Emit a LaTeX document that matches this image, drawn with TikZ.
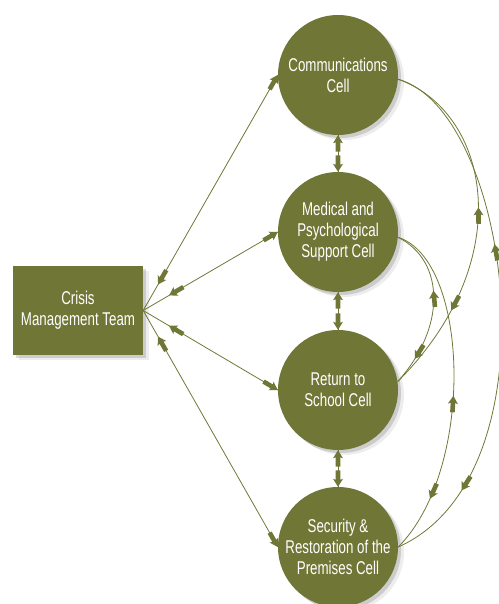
\documentclass[tikz,border=0pt]{standalone}
\usepackage{fontspec}
\setmainfont[FakeStretch=0.72]{Liberation Sans}
\usetikzlibrary{decorations.markings,shadows}
\definecolor{cmolive}{RGB}{112,119,54}
\tikzset{
  softshadow/.style={drop shadow={shadow xshift=3pt,shadow yshift=-3pt,opacity=.14,fill=black},
                     drop shadow={shadow xshift=6pt,shadow yshift=-5pt,opacity=.07,fill=black}},
  cell/.style={circle, fill=cmolive, minimum size=120pt, inner sep=0pt, text=white, align=center,
               font=\fontsize{18.5pt}{21pt}\selectfont, softshadow},
  team/.style={rectangle, fill=cmolive, minimum width=130pt, minimum height=89pt, inner sep=0pt,
               text=white, align=center, font=\fontsize{18.5pt}{21pt}\selectfont, softshadow},
  link/.style={draw=cmolive, line width=0.8pt},
  fwdtip/.style={postaction={decorate, decoration={markings, mark=at position #1 with {
      \fill[cmolive] (0pt,0pt) -- (-8pt,5pt) -- (-7pt,2.3pt) -- (-16.5pt,2.3pt) -- (-16.5pt,-2.3pt)
        -- (-7pt,-2.3pt) -- (-8pt,-5pt) -- cycle;}}}},
  bwdtip/.style={postaction={decorate, decoration={markings, mark=at position #1 with {
      \fill[cmolive] (0pt,0pt) -- (8pt,5pt) -- (7pt,2.3pt) -- (16.5pt,2.3pt) -- (16.5pt,-2.3pt)
        -- (7pt,-2.3pt) -- (8pt,-5pt) -- cycle;}}}}
}
\begin{document}
\begin{tikzpicture}[x=1pt,y=-1pt]
\useasboundingbox (0,0) rectangle (498,604);
\node[team] (cmt) at (78,310.5) {Crisis\\Management Team};
\node[cell] (comm) at (338,75) {Communications\\Cell};
\node[cell] (med) at (338,232) {Medical and\\Psychological\\Support Cell};
\node[cell] (ret) at (338,390) {Return to\\School Cell};
\node[cell] (sec) at (338,547) {Security \&\\Restoration of the\\Premises Cell};

% from the team to each cell
\draw[link, fwdtip=1, bwdtip=30pt] (cmt.east) -- (comm.west);
\draw[link, fwdtip=1, bwdtip=30pt] (cmt.east) -- (med.west);
\draw[link, fwdtip=1, bwdtip=30pt] (cmt.east) -- (ret.west);
\draw[link, fwdtip=1, bwdtip=30pt] (cmt.east) -- (sec.west);

% between neighbouring cells
\draw[link, bwdtip=0.001, fwdtip=1] (comm.south) -- (med.north);
\draw[link, bwdtip=0.001, fwdtip=1] (med.south) -- (ret.north);
\draw[link, bwdtip=0.001, fwdtip=1] (ret.south) -- (sec.north);

% curved links on the right
\draw[link, bwdtip=0.45, fwdtip=0.75] (comm.-4) .. controls +(92,33) and +(122,-122) .. (ret.8);
\draw[link, bwdtip=0.37, fwdtip=0.84] (comm.-4) .. controls +(112,31) and +(162,-72) .. (sec.east);
\draw[link, bwdtip=0.40, fwdtip=0.83] (med.-5) .. controls +(48,24) and +(48,-53) .. (ret.8);
\draw[link, bwdtip=0.52, fwdtip=0.83] (med.-5) .. controls +(72,23) and +(77,-77) .. (sec.east);
\end{tikzpicture}
\end{document}
